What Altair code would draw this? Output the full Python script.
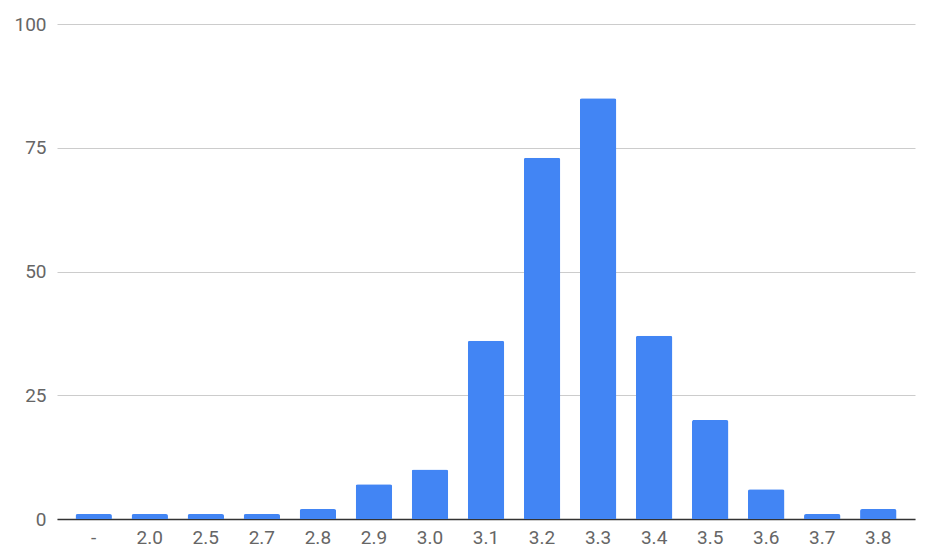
import altair as alt
import pandas as pd

categories = ["-", "2.0", "2.5", "2.7", "2.8", "2.9", "3.0", "3.1",
              "3.2", "3.3", "3.4", "3.5", "3.6", "3.7", "3.8"]
counts = [1, 1, 1, 1, 2, 7, 10, 36, 73, 85, 37, 20, 6, 1, 2]

data = pd.DataFrame({"value": categories, "count": counts})

font = "Roboto"
label_color = "#666666"

bars = alt.Chart(data).mark_bar(
    color="#4285F4",
    cornerRadiusTopLeft=2,
    cornerRadiusTopRight=2,
).encode(
    x=alt.X(
        "value:N",
        sort=categories,
        title=None,
        scale=alt.Scale(paddingInner=0.35, paddingOuter=0.33),
        axis=alt.Axis(
            labelAngle=0,
            labelFont=font,
            labelFontSize=19,
            labelColor=label_color,
            labelPadding=9,
            ticks=False,
            domainColor="#333333",
            domainWidth=1.5,
            grid=False,
        ),
    ),
    y=alt.Y(
        "count:Q",
        title=None,
        scale=alt.Scale(domain=[0, 100], nice=False),
        axis=alt.Axis(
            values=[0, 25, 50, 75, 100],
            labelFont=font,
            labelFontSize=19,
            labelColor=label_color,
            labelPadding=11,
            ticks=False,
            domain=False,
            gridColor="#cccccc",
            gridWidth=1,
        ),
    ),
)

chart = bars.properties(
    width=858,
    height=495,
    autosize="none",
    padding={"left": 49, "top": 16, "right": 17, "bottom": 28},
).configure_view(stroke=None)

chart.save("out.html", embed_options={"renderer": "svg", "actions": False})
